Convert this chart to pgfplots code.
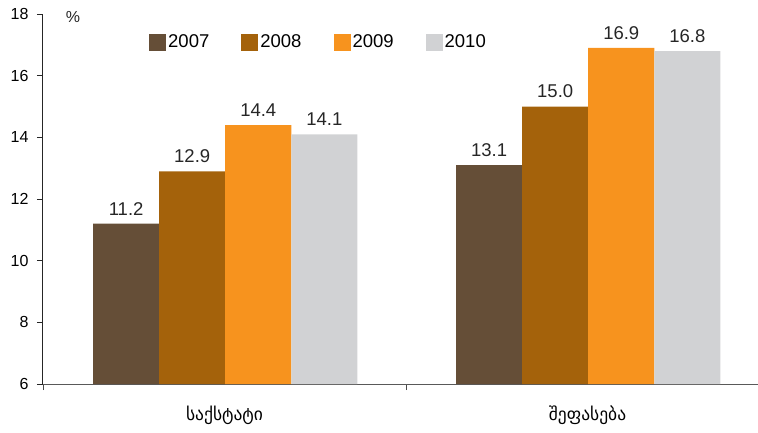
\documentclass[border=0pt]{standalone}
\usepackage{fontspec}
\setmainfont{Liberation Sans}
\newfontfamily\geo{DejaVu Sans}
\usepackage{pgfplots}
\pgfplotsset{compat=1.18}

\definecolor{c2007}{HTML}{654E37}
\definecolor{c2008}{HTML}{A4620B}
\definecolor{c2009}{HTML}{F7931E}
\definecolor{c2010}{HTML}{D1D2D4}

\begin{document}
\begin{tikzpicture}
  \useasboundingbox (-43pt,-48pt) rectangle (715pt,384pt);
  \begin{axis}[
      at={(0,0)}, anchor=south west,
      scale only axis, width=726pt, height=370pt,
      xmin=0, xmax=2, ymin=6, ymax=18,
      ytick={6,8,...,18},
      axis lines*=left,
      clip=false,
      x axis line style={draw=black!65, line width=1pt},
      y axis line style={draw=black!85, line width=1pt},
      xtick={0.5,1.5},
      xticklabels={{\geo საქსტატი},{\geo შეფასება}},
      major x tick style={draw=none},
      minor xtick={0,1,2},
      minor x tick style={draw=black!70, line width=0.8pt},
      tick align=outside,
      major tick length=6pt, minor tick length=6pt,
      ytick style={draw=black!85, line width=0.8pt},
      yticklabel style={font=\fontsize{16}{19}\selectfont, xshift=-5pt},
      xticklabel style={font=\fontsize{17.5}{22}\selectfont, yshift=-12pt},
      /pgf/number format/assume math mode=true,
      ybar=0pt, bar width=0.182,
      every axis plot/.append style={draw=none},
      nodes near coords,
      nodes near coords style={font=\fontsize{18.5}{22}\selectfont, black!85, yshift=5pt,
        /pgf/number format/.cd, fixed, fixed zerofill, precision=1, assume math mode=true},
      legend columns=4,
      legend style={at={(rel axis cs:0.146,0.924)}, anchor=west, draw=none, fill=none,
        font=\fontsize{18.5}{22}\selectfont, inner sep=0pt,
        /tikz/every even column/.append style={column sep=30pt},
        nodes={inner sep=2pt}},
      legend image code/.code={\fill[#1] (0pt,-8.5pt) rectangle (17pt,8.5pt);},
    ]
    \addplot[fill=c2007, bar shift=-0.271] coordinates {(0.5,11.2) (1.5,13.1)};
    \addlegendentry{2007}
    \addplot[fill=c2008, bar shift=-0.089] coordinates {(0.5,12.9) (1.5,15.0)};
    \addlegendentry{2008}
    \addplot[fill=c2009, bar shift=0.093] coordinates {(0.5,14.4) (1.5,16.9)};
    \addlegendentry{2009}
    \addplot[fill=c2010, bar shift=0.275] coordinates {(0.5,14.1) (1.5,16.8)};
    \addlegendentry{2010}
    \node[font=\fontsize{16}{19}\selectfont, black!85] at ([xshift=30pt,yshift=-3pt]rel axis cs:0,1) {\%};
  \end{axis}
\end{tikzpicture}
\end{document}
